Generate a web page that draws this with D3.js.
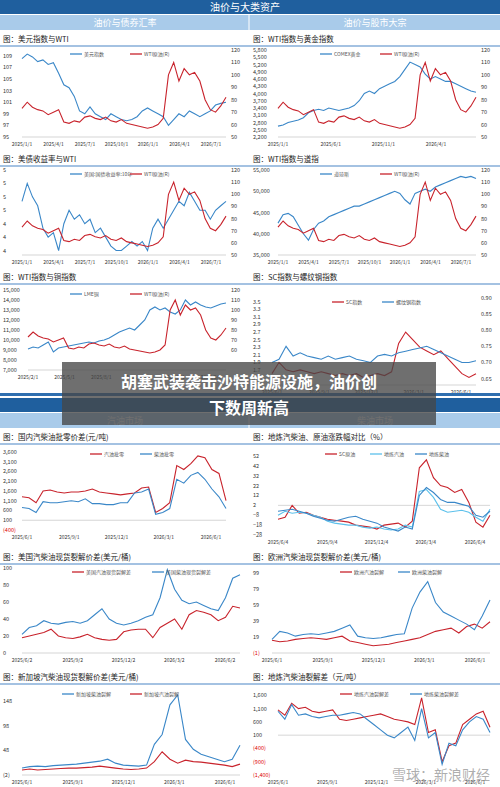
<!DOCTYPE html>
<html><head><meta charset="utf-8">
<script src="https://cdn.jsdelivr.net/npm/d3@7"></script>
<style>body{margin:0;background:#fff}svg{display:block;font-family:"Noto Sans CJK SC",sans-serif}</style>
</head><body>
<script>
// ---- data ----
var wti = [73,78,74,72,71,68,70,72,62,61,63,62,66,67,65,64,66,63,62,64,61,60,59,58,57,58,60,65,100,110,95,105,100,102,95,80,72,70,75,82];
var dxy = [108.5,109.3,108.8,108,108.3,107.5,107.8,106,104,103.5,102,99.5,99,100.2,99,98.5,98,99,98.5,98,97.8,98,98.5,99.5,100,99.5,99,98.5,97,98,99,98.5,99.5,99,98.5,99,99.5,100.5,100.8,101];
var gold = [2650,2700,2800,2850,2900,3000,3200,3300,3350,3300,3400,3350,3300,3350,3400,3500,3700,4000,4100,4000,4200,4300,4400,4500,4700,5000,5300,5200,5100,4800,4600,4700,4600,4500,4500,4400,4300,4200,4100,4050];
var ust10 = [4.6,4.8,4.65,4.55,4.3,4.2,4.25,4.05,4.35,4.5,4.4,4.45,4.35,4.4,4.25,4.3,4.2,4.1,4.05,4.05,4.1,4.15,4.1,4.15,4.05,4.3,4.4,4.3,4.4,4.5,4.6,4.55,4.7,4.6,4.5,4.5,4.4,4.5,4.55,4.6];
var dow = [42500,44500,44800,44000,42000,40000,38500,41000,42500,43000,44000,44500,45000,45500,46000,46500,46500,47000,47500,48000,48500,49000,49500,50000,49500,48000,47000,49500,50000,50500,50000,51000,51500,52000,52500,53000,53500,53200,53500,53000];
var copper = [9100,9300,9200,9500,9800,8800,9200,9300,9400,9500,9600,9700,9800,9700,9900,10000,10200,10500,10800,11000,11200,11000,11500,12000,13000,13300,13000,13200,12800,12600,13000,14000,13500,13800,13500,13300,13200,13400,13600,13700];
var scIdx = [1.6,1.9,1.7,1.65,1.7,1.65,1.6,1.65,1.6,1.55,1.6,1.55,1.6,1.5,1.55,1.6,1.55,1.65,2.4,2.7,2.5,2.3,2.2,2.1,2.2,2.0,1.8,1.6,1.5,1.6];
var rebar = [0.70,0.71,0.75,0.72,0.73,0.72,0.715,0.71,0.72,0.71,0.715,0.72,0.71,0.705,0.70,0.72,0.725,0.72,0.73,0.735,0.74,0.745,0.75,0.74,0.73,0.72,0.71,0.70,0.70,0.705];
var cnGas = [1300,1250,1000,1600,1650,1550,1500,1550,1550,1600,1700,1550,1500,1450,1400,1450,1500,1750,1800,500,700,1000,2900,2700,3000,3400,3300,2700,2500,1100];
var cnDie = [750,700,500,1050,1000,1000,1050,1100,1050,1200,950,950,900,900,1000,1000,1500,1550,1700,400,500,700,2200,2000,2400,2550,2200,1700,1300,700];
var pctSc = [-12,-10,2,-6,-5,-8,-10,-12,-13,-14,-15,-18,-19,-20,-22,-18,-17,-16,-20,-14,40,48,30,22,20,15,18,5,-15,-20,-8];
var pctGas = [-8,-4,-6,-5,-6,-8,-10,-14,-16,-17,-18,-18,-20,-21,-20,-22,-23,-22,-18,-20,16,18,10,-2,-5,-4,-3,-5,-10,-14,-2];
var pctDie = [-4,-3,-2,-4,-6,-9,-11,-13,-14,-12,-10,-9,-12,-14,-16,-20,-22,-24,-20,-22,12,20,15,8,5,5,3,1,-8,-10,-4];
var usGas = [18,20,22,24,28,20,18,17,19,22,18,16,15,16,25,27,28,28,18,30,35,40,28,45,50,48,45,38,42,55,53];
var usDie = [22,30,32,38,35,34,36,37,35,38,45,52,40,35,33,35,38,42,45,65,98,75,62,58,60,56,52,50,65,88,92];
var euGas = [15,13,14,16,17,18,17,16,18,20,14,12,10,8,9,10,12,14,16,18,22,26,28,30,24,32,35,30,38];
var euDie = [16,26,24,20,22,23,22,24,26,30,34,20,18,17,18,20,22,23,55,75,88,62,50,45,40,35,28,45,65];
var sgDie = [12,15,16,15,17,18,19,20,22,24,26,30,22,18,17,16,18,60,80,140,160,70,50,40,35,30,25,30,58];
var sgGas = [8,10,8,9,10,11,12,12,13,14,16,14,12,10,9,10,12,25,45,30,22,28,25,24,22,20,18,15,20];
var dlGas = [1050,850,1300,1100,1150,1000,950,1000,1050,700,650,700,750,800,850,900,800,700,650,600,500,1500,200,300,-900,-300,-200,500,700,900,1000,400];
var dlDie = [1000,700,1250,850,900,800,750,800,850,850,900,950,900,700,500,300,100,0,200,400,-100,1100,0,200,-1000,-200,-300,300,600,800,700,200];

var ticksA = ["2025/1/1","2025/4/1","2025/7/1","2025/10/1","2026/1/1","2026/4/1","2026/7/1"];
var ticksB = ["2025/1/1","2025/6/1","2025/11/1","2026/4/1"];
var ticksC = ["2025/2/1","2025/5/1","2025/8/1","2025/11/1","2026/2/1","2026/5/1"];
var ticksD = ["2025/6/1","2025/9/1","2025/12/1","2026/3/1","2026/6/1"];
var ticksE = ["2025/6/4","2025/9/4","2025/12/4","2026/3/4","2026/6/4"];
var ticksF = ["2025/6/2","2025/9/2","2025/12/2","2026/3/2","2026/6/2"];

var W = 500, H = 787;
var BLUE = "#3a87c8", RED = "#c8232c", LBLUE = "#5bc0eb", NAVY = "#1f5f9e";
var svg = d3.select("body").append("svg").attr("width", W).attr("height", H);

function header(y, title, subL, subR) {
  svg.append("rect").attr("x", 0).attr("y", y).attr("width", W).attr("height", 14).attr("fill", NAVY);
  if (title) svg.append("text").attr("x", 245).attr("y", y + 11).attr("text-anchor", "middle")
    .attr("fill", "#fff").attr("font-size", 10).text(title);
  svg.append("rect").attr("x", 0).attr("y", y + 15).attr("width", W).attr("height", 15).attr("fill", "#a9cbea");
  svg.append("line").attr("x1", 249).attr("x2", 249).attr("y1", y + 15).attr("y2", y + 30).attr("stroke", "#fff");
  svg.append("text").attr("x", 125).attr("y", y + 26).attr("text-anchor", "middle").attr("fill", "#fff").attr("font-size", 9).text(subL);
  svg.append("text").attr("x", 375).attr("y", y + 26).attr("text-anchor", "middle").attr("fill", "#fff").attr("font-size", 9).text(subR);
}

function neg(f) { return function (d) { return d < 0 ? "(" + f(-d) + ")" : f(d); }; }

function panel(c) {
  var x0 = c.x0, g = svg.append("g");
  g.append("text").attr("x", x0 + 3).attr("y", c.ty).attr("font-size", 7.5).attr("fill", "#222").text("图：" + c.title);
  g.append("line").attr("x1", x0).attr("x2", x0 + 250).attr("y1", c.ty + 4).attr("y2", c.ty + 4).attr("stroke", "#4a86c5").attr("stroke-width", 1.2);
  var L = x0 + (c.ml || 22), R = x0 + (c.mr || 226);
  var n = c.series[0].data.length;
  var x = d3.scaleLinear().domain([0, n - 1]).range([L, R]);
  var yl = d3.scaleLinear().domain(c.yl).range([c.bot, c.top]);
  var yr = c.yr ? d3.scaleLinear().domain(c.yr).range([c.bot, c.top]) : null;
  var fl = c.fl || d3.format(",");
  c.ylt.forEach(function (t) {
    g.append("text").attr("x", x0 + 3).attr("y", yl(t) + 2).attr("font-size", 5.5)
      .attr("fill", t < 0 && c.redNeg ? "#d00" : "#333").text(fl(t));
  });
  if (yr) c.yrt.forEach(function (t) {
    g.append("text").attr("x", R + 5).attr("y", yr(t) + 2).attr("font-size", 5.5).attr("fill", "#333").text((c.fr || d3.format(""))(t));
  });
  var base = c.base != null ? yl(c.base) : c.bot;
  g.append("line").attr("x1", L).attr("x2", R).attr("y1", base).attr("y2", base).attr("stroke", "#bbb").attr("stroke-width", 0.6);
  var xt = d3.scaleLinear().domain([0, c.xt.length - 1]).range([L, R - (c.xpad || 15)]);
  c.xt.forEach(function (t, i) {
    g.append("text").attr("x", xt(i)).attr("y", c.bot + 9).attr("font-size", 5).attr("text-anchor", "middle").attr("fill", "#333").text(t);
  });
  c.series.forEach(function (s, k) {
    var ys = s.right ? yr : yl;
    g.append("path").datum(s.data).attr("fill", "none").attr("stroke", s.color).attr("stroke-width", 1.1)
      .attr("d", d3.line().x(function (d, i) { return x(i); }).y(function (d) { return ys(d); }));
    var lx = x0 + (c.lg || 70) + k * (c.lgs || 60), ly = c.top + 4;
    g.append("line").attr("x1", lx).attr("x2", lx + 12).attr("y1", ly).attr("y2", ly).attr("stroke", s.color).attr("stroke-width", 1.3);
    g.append("text").attr("x", lx + 14).attr("y", ly + 2).attr("font-size", 5).attr("fill", "#555").text(s.name);
  });
}

header(0, "油价与大类资产", "油价与债券汇率", "油价与股市大宗");

var wtiR = {yr: [50, 120], yrt: [50, 60, 70, 80, 90, 100, 110, 120]};
panel(Object.assign({x0: 0, ty: 42, top: 50, bot: 137, title: "美元指数与WTI", yl: [95, 110], ylt: [95, 97, 99, 101, 103, 105, 107, 109], xt: ticksA,
  series: [{name: "美元指数", color: BLUE, data: dxy}, {name: "WTI原油(R)", color: RED, data: wti, right: true}]}, wtiR));
panel(Object.assign({x0: 250, ty: 42, top: 50, bot: 137, ml: 28, title: "WTI指数与黄金指数", yl: [2200, 5800], ylt: d3.range(2200, 5801, 300), xt: ticksB, xpad: 40,
  series: [{name: "COMEX黄金", color: BLUE, data: gold}, {name: "WTI原油(R)", color: RED, data: wti, right: true}]}, wtiR));
panel(Object.assign({x0: 0, ty: 162, top: 170, bot: 255, title: "美债收益率与WTI", yl: [4.0, 4.95], ylt: [4.05, 4.2, 4.35, 4.5, 4.65, 4.8, 4.95], fl: d3.format(".0f"), xt: ticksA,
  series: [{name: "美国:国债收益率:10年", color: BLUE, data: ust10}, {name: "WTI原油(R)", color: RED, data: wti, right: true}]}, wtiR));
panel(Object.assign({x0: 250, ty: 162, top: 170, bot: 255, ml: 28, title: "WTI指数与道指", yl: [35000, 55000], ylt: [35000, 40000, 45000, 50000, 55000], xt: ticksA,
  series: [{name: "道琼斯", color: BLUE, data: dow}, {name: "WTI原油(R)", color: RED, data: wti, right: true}]}, wtiR));
panel(Object.assign({x0: 0, ty: 280, top: 290, bot: 370, ml: 28, title: "WTI指数与铜指数", yl: [7000, 15000], ylt: d3.range(7000, 15001, 1000), xt: ticksC,
  series: [{name: "LME铜", color: BLUE, data: copper}, {name: "WTI原油(R)", color: RED, data: wti, right: true}]}, {yr: [40, 120], yrt: [60, 70, 80, 90, 100, 110, 120]}));
panel({x0: 250, ty: 280, top: 298, bot: 385, title: "SC指数与螺纹钢指数", yl: [1.3, 3.6], ylt: [1.5, 1.7, 1.9, 2.1, 2.3, 2.5, 2.7, 2.9, 3.1, 3.3, 3.5], fl: d3.format(".1f"),
  yr: [0.63, 0.9], yrt: [0.65, 0.7, 0.75, 0.8, 0.85, 0.9], fr: d3.format(".2f"), xt: ticksD, lg: 82, lgs: 50,
  series: [{name: "SC指数", color: RED, data: scIdx}, {name: "螺纹钢指数", color: BLUE, data: rebar, right: true}]});

header(398, null, "汽油市场", "柴油市场");
svg.append("rect").attr("x", 0).attr("y", 393).attr("width", W).attr("height", 3).attr("fill", "#2f6fb0");

panel({x0: 0, ty: 440, top: 450, bot: 530, title: "国内汽柴油批零价差(元/吨)", yl: [-400, 3700], ylt: d3.range(-400, 3601, 500), fl: neg(d3.format(",")), redNeg: true, xt: ticksD,
  base: 100, lg: 90, lgs: 50, series: [{name: "汽油批零", color: RED, data: cnGas}, {name: "柴油批零", color: BLUE, data: cnDie}]});
panel({x0: 250, ty: 440, top: 450, bot: 535, title: "地炼汽柴油、原油涨跌幅对比（%）", yl: [-28, 58], ylt: [-28, -18, -8, 2, 12, 22, 32, 42, 52], xt: ticksE, base: 2, ml: 28, mr: 240,
  lg: 75, lgs: 45, series: [{name: "SC原油", color: RED, data: pctSc}, {name: "地炼汽油", color: LBLUE, data: pctGas}, {name: "地炼柴油", color: BLUE, data: pctDie}]});
panel({x0: 0, ty: 560, top: 568, bot: 653, title: "美国汽柴油现货裂解价差(美元/桶)", yl: [0, 100], ylt: [0, 20, 40, 60, 80, 100], xt: ticksF, mr: 240,
  lg: 72, lgs: 80, series: [{name: "美国汽油现货裂解差", color: RED, data: usGas}, {name: "美国柴油现货裂解差", color: BLUE, data: usDie}]});
panel({x0: 250, ty: 560, top: 568, bot: 653, title: "欧洲汽柴油现货裂解价差(美元/桶)", yl: [-1, 105], ylt: [-1, 19, 39, 59, 79, 99], fl: neg(d3.format("")), redNeg: true, xt: ticksD, mr: 240,
  lg: 90, lgs: 58, series: [{name: "欧洲汽油裂解", color: RED, data: euGas}, {name: "欧洲柴油裂解", color: BLUE, data: euDie}]});
panel({x0: 0, ty: 680, top: 690, bot: 775, title: "新加坡汽柴油现货裂解价差(美元/桶)", yl: [-2, 170], ylt: [-2, 48, 98, 148], fl: neg(d3.format("")), xt: ticksD, mr: 240,
  lg: 62, lgs: 68, series: [{name: "新加坡柴油裂解", color: BLUE, data: sgDie}, {name: "新加坡汽油裂解", color: RED, data: sgGas}]});
panel({x0: 250, ty: 680, top: 690, bot: 775, ml: 28, mr: 240, title: "地炼汽柴油裂解差（元/吨）", yl: [-1400, 1800], ylt: [-1400, -900, -400, 100, 600, 1100, 1600], fl: neg(d3.format(",")), redNeg: true, xt: ticksD,
  base: 100, lg: 90, lgs: 70, series: [{name: "地炼汽油裂解差", color: RED, data: dlGas}, {name: "地炼柴油裂解差", color: BLUE, data: dlDie}]});

// headline banner over the page
svg.append("rect").attr("x", 62).attr("y", 362).attr("width", 374).attr("height", 63).attr("fill", "rgba(70,70,70,0.78)");
svg.append("text").attr("x", 249).attr("y", 388).attr("text-anchor", "middle").attr("fill", "#fff").attr("font-size", 16).attr("font-weight", "bold").text("胡塞武装袭击沙特能源设施，油价创");
svg.append("text").attr("x", 249).attr("y", 414).attr("text-anchor", "middle").attr("fill", "#fff").attr("font-size", 16).attr("font-weight", "bold").text("下数周新高");
svg.append("text").attr("x", 490).attr("y", 780).attr("text-anchor", "end").attr("fill", "rgba(120,120,120,0.6)").attr("font-size", 14).text("雪球：新浪财经");
</script>
</body></html>
